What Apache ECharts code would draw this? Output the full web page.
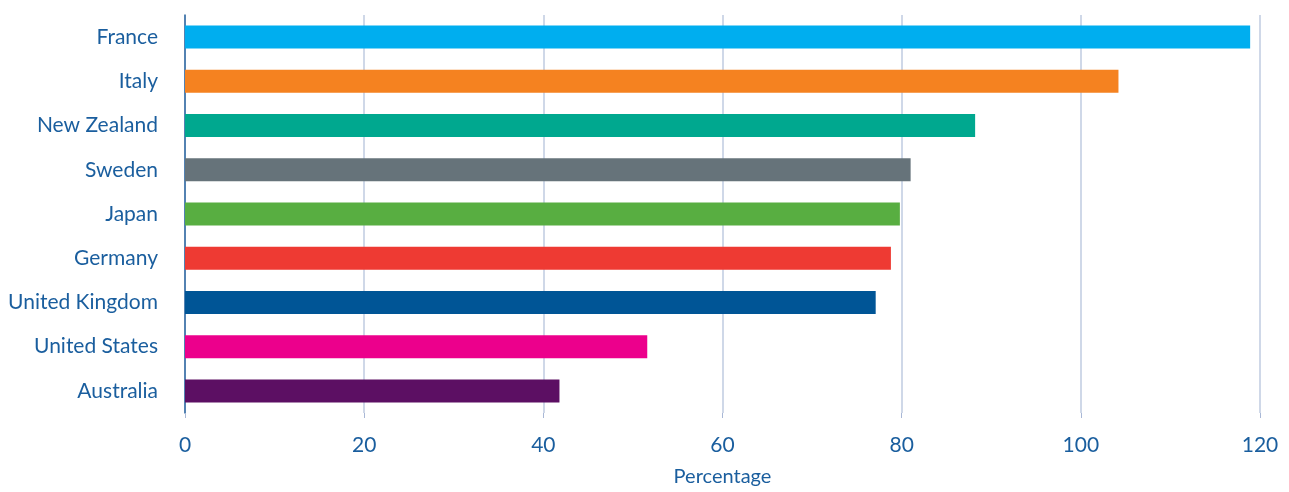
<!DOCTYPE html>
<html>
<head>
<meta charset="utf-8">
<script src="https://cdn.jsdelivr.net/npm/echarts@6/dist/echarts.min.js"></script>
<style>
html,body{margin:0;padding:0;background:#fff;}
#chart{width:1289px;height:492px;}
</style>
</head>
<body>
<div id="chart"></div>
<script>
const categories = ["France","Italy","New Zealand","Sweden","Japan","Germany","United Kingdom","United States","Australia"];
const values = [118.9, 104.2, 88.2, 81.0, 79.8, 78.8, 77.1, 51.6, 41.8];
const barColors = ["#00AEEF","#F58220","#00A88F","#66737A","#58AE41","#EE3A33","#005596","#EC008C","#5C0F63"];
const xTicks = [0, 20, 40, 60, 80, 100, 120];

const textColor = "#1A5E9E";
const fontFam = "Lato, 'Open Sans', sans-serif";

const chart = echarts.init(document.getElementById('chart'), null, {renderer:'canvas'});
chart.setOption({
  animation:false,
  grid:{left:185, right:29, top:15, bottom:72, containLabel:false},
  xAxis:{
    type:'value', min:xTicks[0], max:xTicks[xTicks.length-1], interval:20,
    name:'Percentage', nameLocation:'middle', nameGap:54,
    nameTextStyle:{color:textColor, fontSize:20, fontFamily:fontFam},
    axisLine:{show:false},
    axisTick:{show:true, length:5, lineStyle:{color:'#A9B8D6', width:1}},
    axisLabel:{color:textColor, fontSize:21, fontFamily:fontFam, margin:22},
    splitLine:{show:true, lineStyle:{color:'#BFCBE0', width:1.5}}
  },
  yAxis:{
    type:'category', data:categories, inverse:true,
    axisLine:{show:true, lineStyle:{color:'#2A66A0', width:1.5}},
    axisTick:{show:false},
    axisLabel:{color:textColor, fontSize:21, fontFamily:fontFam, margin:27}
  },
  series:[{
    type:'bar',
    data:values.map((v,i)=>({value:v, itemStyle:{color:barColors[i]}})),
    barCategoryGap:'48%'
  }]
});
</script>
</body>
</html>
